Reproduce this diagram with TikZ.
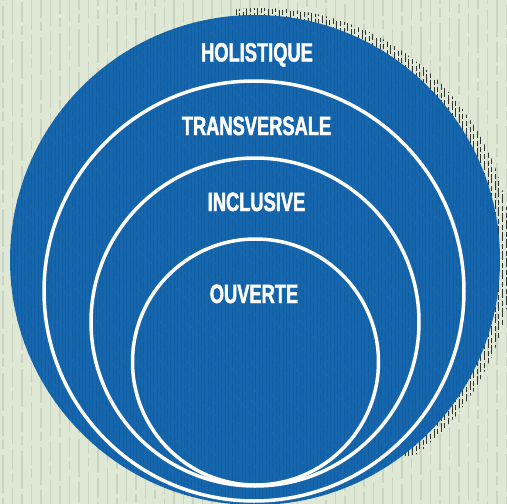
\documentclass[tikz,border=0pt]{standalone}
\usepackage{fontspec}
\newfontfamily\ringfont{Liberation Sans}[FakeStretch=0.69, BoldFeatures={FakeBold=1.6}]
\usetikzlibrary{positioning}

\definecolor{paper}{HTML}{DEE8D5}
\definecolor{paperline}{HTML}{C9D4C2}
\definecolor{ringblue}{HTML}{1666AD}
\definecolor{ringline}{HTML}{0F5B9C}

\begin{document}
\begin{tikzpicture}[x=1pt, y=-1pt,
  ring/.style={draw=white, line width=3.5pt},
  ringlabel/.style={text=white, font=\ringfont\bfseries\fontsize{26.5}{26.5}\selectfont, anchor=base, inner sep=0pt},
  bgstripe/.style={paperline, line width=1.2pt},
  hatch/.style={black!80, line width=0.9pt},
  bluestripe/.style={ringline, line width=0.8pt, opacity=0.6}]
\useasboundingbox (0,0) rectangle (507,504);

% Paper background
\fill[paper] (0,0) rectangle (507,504);
\foreach \x [count=\i] in {3,12.5,...,507}{
  \pgfmathsetmacro\ph{mod(\i*37,70)}
  \draw[bgstripe, dash pattern=on 38pt off 5pt on 20pt off 4pt on 9pt off 6pt, dash phase=\ph pt] (\x,0) -- (\x,504);
}

% Shadow
\begin{scope}
\clip (262,258) circle[radius=250pt];
\clip (0,0) rectangle (507,455);
\foreach \x [count=\i] in {236,239.6,...,512}{
  \pgfmathsetmacro\ph{mod(\i*13,20)}
  \draw[hatch, dash pattern=on 9pt off 3pt on 5pt off 2pt, dash phase=\ph pt] (\x,0) -- (\x,504);
}
\end{scope}

% Outer disc
\fill[ringblue] (255,260) circle[radius=245pt];
\begin{scope}
\clip (255,260) circle[radius=245pt];
\foreach \x [count=\i] in {11,14.4,...,500}{
  \pgfmathsetmacro\ph{mod(\i*11,30)}
  \draw[bluestripe, dash pattern=on 22pt off 3pt on 11pt off 2pt, dash phase=\ph pt] (\x,10) -- (\x,504);
}
\end{scope}

% Rings
\draw[ring] (254,291) circle[radius=210pt];
\draw[ring] (255,322) circle[radius=164pt];
\draw[ring] (255.5,362) circle[radius=123pt];

% Labels
\node[ringlabel] (holistique) at (257,61.5) {HOLISTIQUE};
\node[ringlabel] (transversale) at (256.5,135) {TRANSVERSALE};
\node[ringlabel] (inclusive) at (256.5,211) {INCLUSIVE};
\node[ringlabel] (ouverte) at (254,303) {OUVERTE};
\end{tikzpicture}
\end{document}
